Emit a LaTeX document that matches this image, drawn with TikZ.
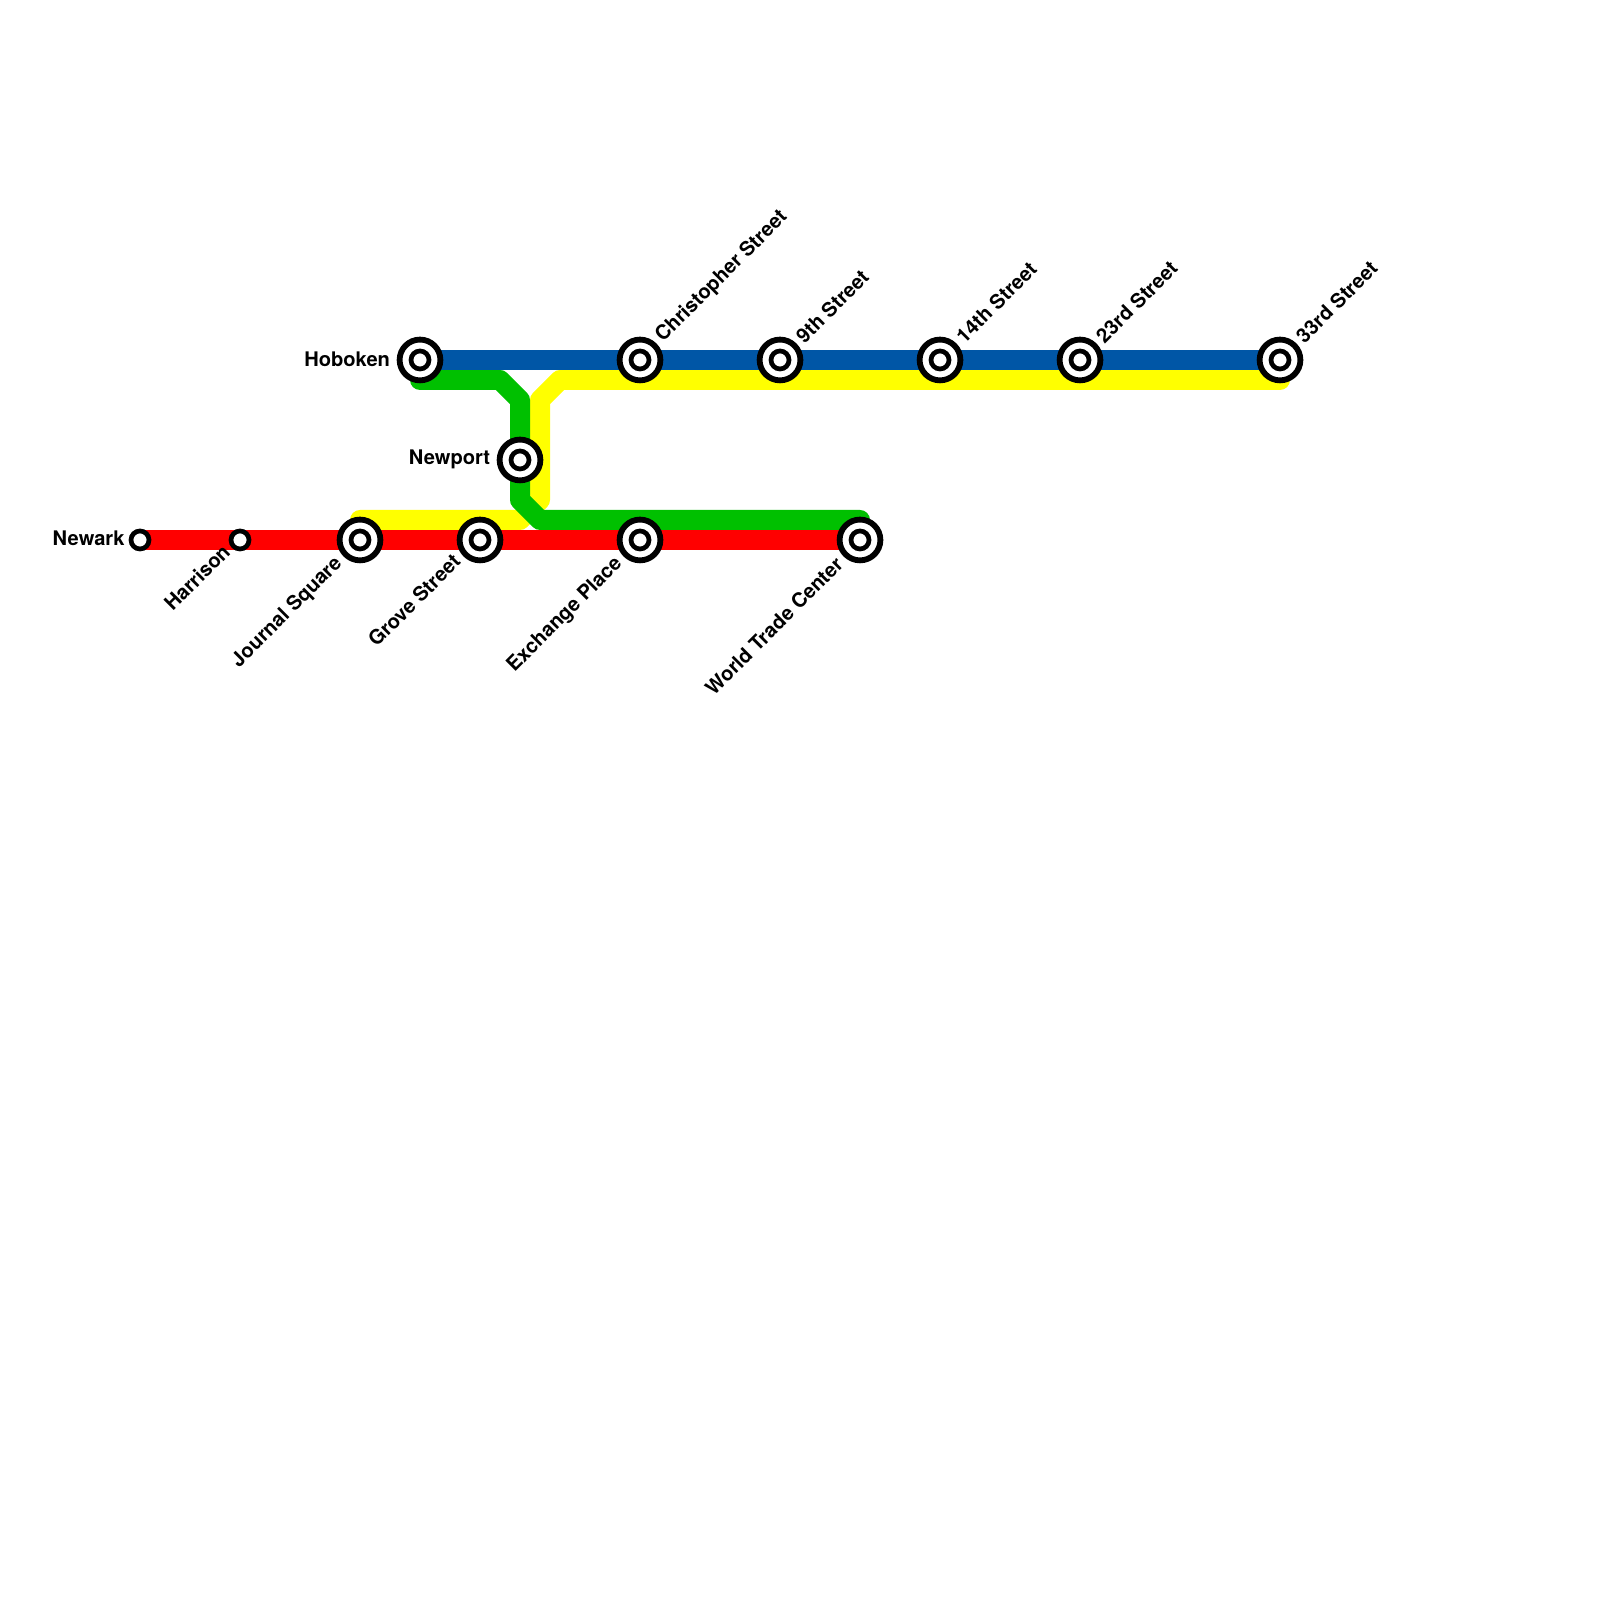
\documentclass[tikz,border=0pt]{standalone}
\usepackage{fontspec}
\setmainfont{TeX Gyre Heros}
\usetikzlibrary{calc,backgrounds}
\definecolor{pathyellow}{RGB}{255,255,0}
\definecolor{pathgreen}{RGB}{0,192,0}
\definecolor{pathblue}{RGB}{0,86,166}
\definecolor{pathred}{RGB}{255,0,0}

\begin{document}
\begin{tikzpicture}[
  every node/.style={font=\fontsize{5.72pt}{6.5pt}\selectfont\bfseries},
  track/.style={line width=2mm, line join=round},
  hub/.style={circle, draw=black, fill=white, line width=.58mm, minimum size=4.08mm, inner sep=0pt},
  stop/.style={circle, draw=black, fill=white, line width=.47mm, minimum size=1.8mm, inner sep=0pt},
  nameup/.style={rotate=45, anchor=west, inner sep=.45mm, yshift=.1mm},
  namedown/.style={rotate=45, anchor=east, inner sep=.45mm, xshift=-.1mm},
  nameleft/.style={anchor=east, inner sep=.6mm, yshift=.1mm}
]
\useasboundingbox (0,0) rectangle (16,16);
% stations with a double ring
\foreach \stn/\x/\y in {hoboken/4.2/12.4, christopher/6.4/12.4, ninth/7.8/12.4,
    fourteenth/9.4/12.4, twentythird/10.8/12.4, thirtythird/12.8/12.4,
    newport/5.2/11.4, journal/3.6/10.6, grove/4.8/10.6, exchange/6.4/10.6, wtc/8.6/10.6}{
  \node[hub] (\stn) at (\x,\y) {};
  \node[stop] (\stn-in) at (\stn) {};
}
% plain stops
\node[stop] (newark) at (1.4,10.6) {};
\node[stop] (harrison) at (2.4,10.6) {};
% labels
\node[nameleft, inner sep=.35mm, yshift=.1mm] (newark-l) at (newark.west) {Newark};
\node[nameleft] (hoboken-l) at (hoboken.west) {Hoboken};
\node[nameleft] (newport-l) at (newport.west) {Newport};
\node[nameup] (christopher-l) at (christopher.45) {Christopher Street};
\node[nameup] (ninth-l) at (ninth.45) {9th Street};
\node[nameup] (fourteenth-l) at (fourteenth.45) {14th Street};
\node[nameup] (twentythird-l) at (twentythird.45) {23rd Street};
\node[nameup] (thirtythird-l) at (thirtythird.45) {33rd Street};
\node[namedown, xshift=.2mm, yshift=.4mm] (harrison-l) at (harrison.225) {Harrison};
\node[namedown] (journal-l) at (journal.225) {Journal Square};
\node[namedown, yshift=.4mm] (grove-l) at (grove.225) {Grove Street};
\node[namedown] (exchange-l) at (exchange.225) {Exchange Place};
\node[namedown] (wtc-l) at (wtc.225) {World Trade Center};
% the lines go under the stations
\begin{scope}[on background layer]
\draw[track, line cap=round, pathyellow]
  ($(thirtythird)+(0,-.2)$) -- (5.6,12.2) -- (5.4,12) -- (5.4,11) -- (5.2,10.8)
  -- ($(journal)+(0,.2)$);
\draw[track, line cap=round, pathgreen]
  ($(hoboken)+(0,-.2)$) -- (5,12.2) -- (5.2,12) -- (5.2,11) -- (5.4,10.8)
  -- ($(wtc)+(0,.2)$);
\draw[track, pathred] (newark.center) -- (wtc.center);
\draw[track, pathblue] (hoboken.center) -- (thirtythird.center);
\end{scope}
\end{tikzpicture}
\end{document}
